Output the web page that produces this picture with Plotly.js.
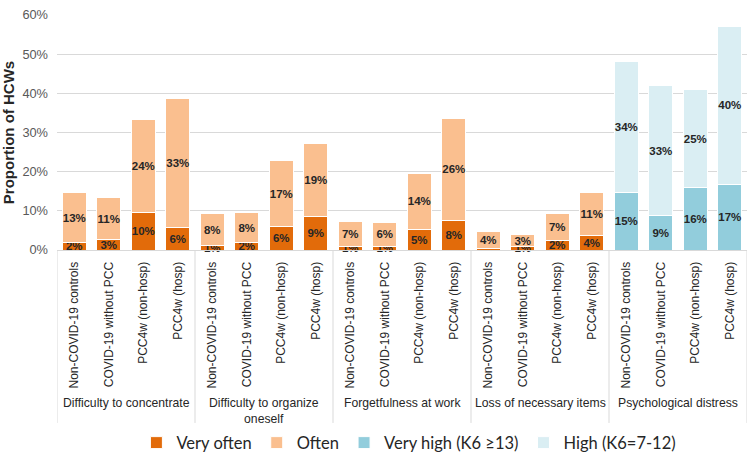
<!DOCTYPE html>
<html>
<head>
<meta charset="utf-8">
<script src="https://cdn.plot.ly/plotly-3.0.1.min.js"></script>
<style>html,body{margin:0;padding:0;background:#fff;}#chart{width:750px;height:458px;}</style>
</head>
<body>
<div id="chart"></div>
<script>
// ---- data ----
var groups = ["Difficulty to concentrate", "Difficulty to organize<br>oneself", "Forgetfulness at work", "Loss of necessary items", "Psychological distress"];
var subgroups = ["Non-COVID-19 controls", "COVID-19 without PCC", "PCC4w (non-hosp)", "PCC4w (hosp)"];

// Cognitive items (groups 1-4): Very often / Often, in % of HCWs
var veryOften = [1.9, 2.7, 9.6, 5.8,   1.1, 1.9, 5.9, 8.6,   0.8, 1.0, 5.3, 7.6,   0.3, 0.8, 2.3, 3.7];
var often     = [12.7, 10.6, 23.8, 32.8, 8.2, 7.6, 16.9, 18.6, 6.6, 6.1, 14.2, 26.1, 4.3, 3.2, 7.1, 11.1];

// Psychological distress (group 5): K6 categories
var veryHigh = [14.6, 8.8, 15.9, 16.8];
var high     = [33.6, 33.1, 25.1, 40.2];

var yTicks = [0, 10, 20, 30, 40, 50, 60];
var yTickText = ["0%", "10%", "20%", "30%", "40%", "50%", "60%"];

// ---- build ----
var nG = groups.length, nS = subgroups.length;
var xCog = [], xPsy = [], tickvals = [], ticktext = [];
for (var g = 0; g < nG; g++) {
  for (var s = 0; s < nS; s++) {
    var idx = g * nS + s;
    tickvals.push(idx); ticktext.push(subgroups[s]);
    if (g < 4) xCog.push(idx); else xPsy.push(idx);
  }
}
function lbl(arr) { return arr.map(function (v) { return v >= 0.5 ? Math.round(v) + "%" : ""; }); }

var AR = "Liberation Sans, Arial, sans-serif";
var txtFont = {family: AR, size: 11.5, color: "#262626", weight: "bold"};
function bar(name, x, y, color) {
  return {
    type: "bar", name: name, x: x, y: y,
    text: lbl(y), textposition: "inside", insidetextanchor: "middle",
    constraintext: "none", textangle: 0, cliponaxis: false,
    textfont: txtFont, insidetextfont: txtFont,
    marker: {color: color, line: {color: "#ffffff", width: 1}},
    hoverinfo: "skip"
  };
}
var data = [
  bar("Very often", xCog, veryOften, "#E26B0A"),
  bar("Often", xCog, often, "#FABF8F"),
  bar("Very high (K6 ≥13)", xPsy, veryHigh, "#92CDDC"),
  bar("High (K6=7-12)", xPsy, high, "#DAEEF3")
];

var shapes = [], annotations = [];
for (var g = 0; g <= nG; g++) {
  shapes.push({type: "line", xref: "x", yref: "paper", x0: g * nS - 0.5, x1: g * nS - 0.5,
    y0: 0, y1: -0.736, line: {color: "#D9D9D9", width: 1}});
}
for (var g = 0; g < nG; g++) {
  annotations.push({xref: "x", yref: "paper", x: g * nS + (nS - 1) / 2, y: 0,
    yanchor: "top", xanchor: "center", yshift: -144, showarrow: false,
    text: groups[g], align: "center",
    font: {family: AR, size: 12.2, color: "#262626"}});
}

var layout = {
  width: 750, height: 458,
  margin: {l: 57, r: 3, t: 15, b: 208},
  barmode: "stack", bargap: 0.3,
  paper_bgcolor: "#ffffff", plot_bgcolor: "#ffffff",
  showlegend: true,
  legend: {orientation: "h", x: 0.51, xanchor: "center", xref: "paper",
    yref: "container", y: 0.033, yanchor: "middle",
    font: {family: "Lato, Open Sans, sans-serif", size: 16.5, color: "#262626"},
    traceorder: "normal", itemwidth: 30},
  xaxis: {range: [-0.5, 19.5], tickvals: tickvals, ticktext: ticktext, tickangle: -90,
    showgrid: false, zeroline: false, showline: true, linecolor: "#D9D9D9", linewidth: 1,
    ticks: "", ticklabelstandoff: 6, automargin: false,
    tickfont: {family: AR, size: 12, color: "#262626"},
    fixedrange: true},
  yaxis: {range: [0, 60], tickvals: yTicks, ticktext: yTickText, automargin: false,
    showgrid: true, gridcolor: "#D9D9D9", gridwidth: 1, zeroline: false, showline: false,
    ticks: "", ticklabelstandoff: 8,
    tickfont: {family: AR, size: 12.8, color: "#595959"},
    title: {text: "Proportion of HCWs", standoff: 6,
      font: {family: AR, size: 15, color: "#262626", weight: "bold"}},
    fixedrange: true},
  shapes: shapes, annotations: annotations
};
Plotly.newPlot("chart", data, layout, {displayModeBar: false, staticPlot: true});
</script>
</body>
</html>
